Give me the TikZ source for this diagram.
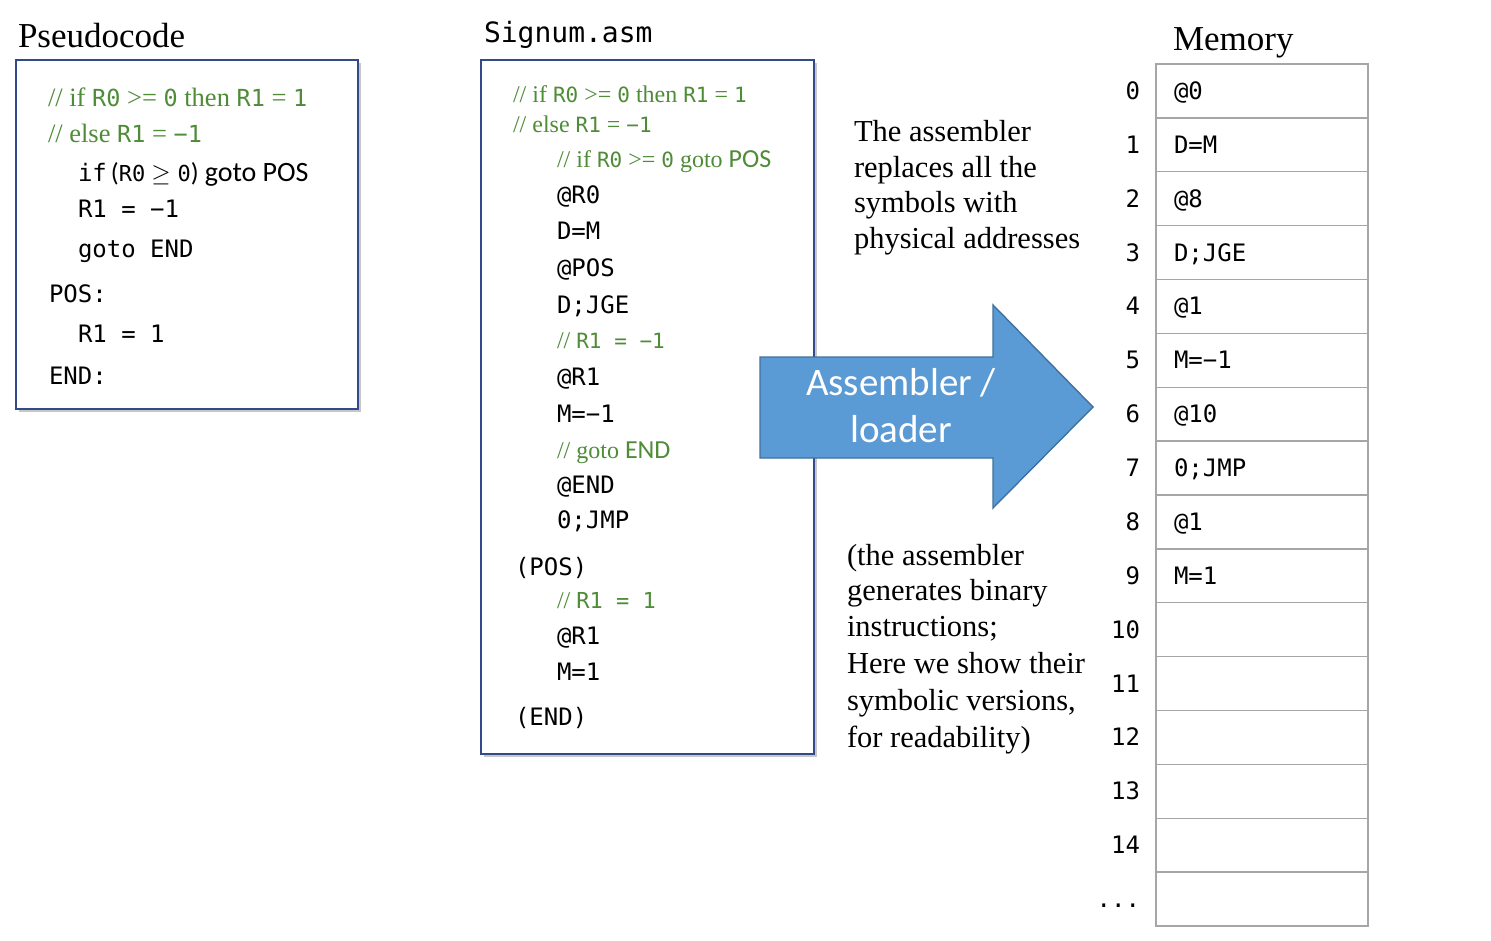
\documentclass[tikz,border=0pt]{standalone}
\usepackage{fontspec}
\setmainfont{Liberation Serif}
\newfontfamily\mono{DejaVu Sans Mono}
\newfontfamily\calf{Carlito}
\definecolor{boxblue}{HTML}{34498A}
\definecolor{cmt}{HTML}{4F8C38}
\definecolor{arrowfill}{HTML}{5B9BD5}
\definecolor{arrowline}{HTML}{41719C}
\definecolor{cellline}{HTML}{A6A6A6}
\newcommand\pmono[1]{{\mono\fontsize{23.5}{23.5}\selectfont #1}}
\newcommand\smono[1]{{\mono\fontsize{21}{21}\selectfont #1}}
\begin{document}
\begin{tikzpicture}[x=1pt,y=-1pt,
  txt/.style={anchor=base west, inner sep=0pt, outer sep=0pt},
  code/.style={txt, font=\mono\fontsize{24}{24}\selectfont},
  pcm/.style={txt, text=cmt, font=\fontsize{26.5}{26.5}\selectfont},
  scm/.style={txt, text=cmt, font=\fontsize{24}{24}\selectfont},
  title/.style={txt, font=\fontsize{35}{35}\selectfont},
  note/.style={txt, font=\fontsize{30.5}{30.5}\selectfont},
  boxshadow/.style={fill=black!22},
  codebox/.style={draw=boxblue, line width=2.2pt, fill=white, inner sep=0pt, anchor=north west},
  cell/.style={draw=cellline, line width=1.4pt, minimum width=212pt, minimum height=53.875pt, inner sep=0pt},
  arrowtxt/.style={anchor=base, inner sep=0pt, text=white, font=\calf\fontsize{39}{39}\selectfont}
]
\useasboundingbox (0,0) rectangle (1491,941);
\fill[white] (0,0) rectangle (1491,941);

% ---------- Pseudocode ----------
\node[title] (ptitle) at (18,48) {Pseudocode};
\fill[boxshadow] (19,63) rectangle (361,412);
\node[codebox, minimum width=342pt, minimum height=349pt] (pbox) at (15,59) {};
\node[pcm] (p1) at (48,107) {// if \pmono{R0} >= \pmono{0} then \pmono{R1} = \pmono{1}};
\node[pcm] (p2) at (48,143) {// else \pmono{R1} = \pmono{−1}};
\node[code] (p3) at (78,182) {if\hspace{4pt}{\calf\fontsize{26}{26}\selectfont(}{\fontsize{22}{22}\selectfont R0}\hspace{6pt}$\geq$\hspace{7pt}{\fontsize{22}{22}\selectfont 0}{\calf\fontsize{26}{26}\selectfont)}\hspace{6pt}{\calf\fontsize{28}{28}\selectfont goto POS}};
\node[code] (p4) at (78,218) {R1 = −1};
\node[code] (p5) at (78,258) {goto END};
\node[code] (p6) at (49,302) {POS:};
\node[code] (p7) at (78,342) {R1 = 1};
\node[code] (p8) at (49,384) {END:};

% ---------- Signum.asm ----------
\node[txt, font=\mono\fontsize{28}{28}\selectfont] (stitle) at (484,43) {Signum.asm};
\fill[boxshadow] (484,63) rectangle (817,757);
\node[codebox, minimum width=333pt, minimum height=694pt] (sbox) at (480,59) {};
\node[scm] (s1) at (513,103) {// if \smono{R0} >= \smono{0} then \smono{R1} = \smono{1}};
\node[scm] (s2) at (513,133) {// else \smono{R1} = \smono{−1}};
\node[scm] (s3) at (557,168) {// if \smono{R0} >= \smono{0} goto {\calf\fontsize{26}{26}\selectfont POS}};
\node[code] (s4) at (557,204) {@R0};
\node[code] (s5) at (557,240) {D=M};
\node[code] (s6) at (557,277) {@POS};
\node[code] (s7) at (557,313) {D;JGE};
\node[scm] (s8) at (557,348) {// \smono{R1 = −1}};
\node[code] (s9) at (557,385) {@R1};
\node[code] (s10) at (557,422) {M=−1};
\node[scm] (s11) at (557,458) {// goto {\calf\fontsize{26}{26}\selectfont END}};
\node[code] (s12) at (557,493) {@END};
\node[code] (s13) at (557,528) {0;JMP};
\node[code] (s14) at (515,575) {(POS)};
\node[scm] (s15) at (557,608) {// {\mono\fontsize{22}{22}\selectfont R1 = 1}};
\node[code] (s16) at (557,644) {@R1};
\node[code] (s17) at (557,680) {M=1};
\node[code] (s18) at (515,725) {(END)};

% ---------- Arrow ----------
\path[draw=arrowline, fill=arrowfill, line width=1.4pt, line join=miter]
  (760,357) -- (993,357) -- (993,305) -- (1093,407) -- (993,508) -- (993,458) -- (760,458) -- cycle;
\node[arrowtxt] (a1) at (901,395) {Assembler /};
\node[arrowtxt] (a2) at (901,442) {loader};

% ---------- Notes ----------
\node[note] (r1) at (854,142) {The assembler};
\node[note] (r2) at (854,177.5) {replaces all the};
\node[note] (r3) at (854,213) {symbols with};
\node[note] (r4) at (854,248.5) {physical addresses};

\node[note] (q1) at (847,565) {(the assembler};
\node[note] (q2) at (847,600) {generates binary};
\node[note] (q3) at (847,636) {instructions;};
\node[note] (q4) at (847,673) {Here we show their};
\node[note] (q5) at (847,710) {symbolic versions,};
\node[note] (q6) at (847,747) {for readability)};

% ---------- Memory ----------
\node[title] (mtitle) at (1173,51) {Memory};
\foreach \i in {0,...,15}
  \node[cell] (m\i) at (1262,{64+53.875*(\i+0.5)}) {};
\foreach \i in {0,...,14}
  \node[code, anchor=base east] (n\i) at (1140,{64+53.875*(\i+0.5)+8.5}) {\i};
\node[code, anchor=base east] (ndots) at (1140,907.5) {...};
\foreach \i/\t in {0/@0,1/D=M,2/@8,3/D;JGE,4/@1,5/M=−1,6/@10,7/0;JMP,8/@1,9/M=1}
  \node[code] (c\i) at (1174,{64+53.875*(\i+0.5)+8.5}) {\t};
\end{tikzpicture}
\end{document}
